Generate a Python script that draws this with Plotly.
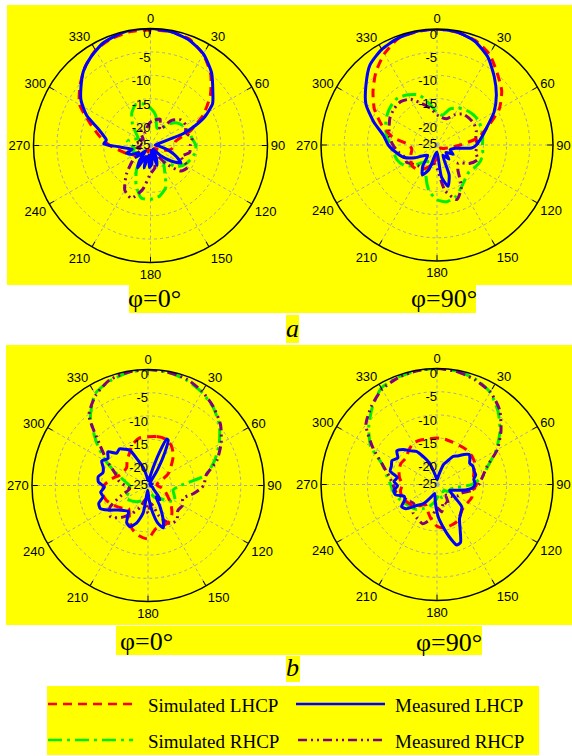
import plotly.graph_objects as go

W, H = 572, 756

THETA = list(range(0, 360, 10))
ANG_TICKS = list(range(0, 360, 30))
RAD_TICKS = [0, -5, -10, -15, -20, -25]
RAD_LABELS = ["0", "-5", "-10", "-15", "-20", "-25"]

# ---- (a) phi = 0 deg ----
A0_SIM_LHCP = [-0.3, -0.3, -0.8, -2.5, -5.0, -8.3, -12.0, -16.0, -19.5, -20.0, -20.5, -22.0,
               -23.5, -24.0, -24.0, -24.0, -23.5, -24.0, -23.5, -24.0, -23.5, -24.0, -23.0, -22.0,
               -21.0, -19.8, -18.5, -16.3, -14.0, -11.3, -7.5, -5.3, -3.2, -1.5, -0.7, -0.3]
A0_MEAS_LHCP_T = [0, 10, 20, 30, 40, 50, 56, 62, 66, 70, 75, 85, 95, 105, 113, 120, 127, 135, 145,
                  155, 162, 170, 176, 183, 190, 196, 203, 210, 216, 223, 230, 238, 245, 252, 258,
                  263, 268, 272, 277, 283, 288, 295, 303, 310, 318, 326, 335, 345, 352]
A0_MEAS_LHCP = [0, -0.3, -1, -2.4, -4.7, -7.6, -9, -11.8, -14.5, -17.5, -23, -24, -23, -21, -19,
                -17.5, -19.5, -22, -24, -22, -20.5, -24, -21, -20.3, -23, -20, -22.5, -19.5, -21,
                -23.5, -21, -22, -20.5, -19.6, -21, -20, -18, -15, -15.5, -14.5, -13.2, -10, -7.3,
                -5.6, -3.6, -2.2, -0.9, -0.2, 0]
A0_SIM_RHCP = [-17, -18.5, -21, -21, -19, -17.5, -16.8, -16.3, -16, -15.3, -15.4, -16, -16.7, -18,
               -20.5, -19, -15.5, -14, -13.5, -13.6, -16, -19, -22, -22.5, -22, -21, -21.5, -21,
               -20, -21, -22, -21, -19, -17, -15.7, -16]
A0_MEAS_RHCP = [-20, -19.5, -19, -21, -18, -16.5, -16.3, -17, -16, -16.5, -16.5, -18, -15.8, -16.5,
                -20, -23, -22, -20, -19, -15.5, -13, -14, -17, -20, -22, -23, -22, -23.5, -22, -23,
                -22.5, -23, -22, -21, -22, -21]

# ---- (a) phi = 90 deg ----
A90_SIM_LHCP = [0, -0.3, -1, -2.4, -4.8, -6.8, -9.5, -13.3, -16, -20, -22, -23, -23.5, -24, -24,
                -24, -24, -23.5, -22.5, -21, -20, -19, -18.2, -18, -18.5, -19, -19.5, -19, -15.3,
                -12.3, -9.4, -7, -4.5, -2.3, -0.6, -0.2]
A90_MEAS_LHCP_T = [0, 10, 20, 30, 40, 50, 60, 70, 80, 90, 95, 100, 110, 120, 130, 140, 150, 158,
                   165, 172, 180, 190, 198, 206, 214, 222, 230, 240, 250, 260, 270, 280, 290, 300,
                   310, 320, 330, 340, 350]
A90_MEAS_LHCP = [0, -0.3, -1.2, -3.1, -5.8, -8.3, -10.8, -13.5, -15.2, -16.5, -17.5, -21, -22, -21,
                 -22.5, -21, -22.5, -18, -15.8, -18, -23.5, -23, -19.5, -17.8, -19.5, -22, -21.5,
                 -19.5, -17.3, -16, -14.5, -13.3, -10.5, -7.3, -5, -2.5, -1.2, -0.5, -0.1]
A90_SIM_RHCP = [-18, -18.5, -16.7, -15.8, -15.2, -14.8, -14.6, -14.8, -15, -15.2, -15, -15, -15.5,
                -16, -15.5, -14.5, -13.2, -12.6, -13.2, -15, -18, -21, -20, -18, -16.5, -15.8,
                -15.5, -15, -14, -13.2, -12.5, -12, -11.8, -12.5, -13.5, -16]
A90_MEAS_RHCP = [-18.5, -19, -19, -17.5, -16.3, -16, -15.8, -16, -16.5, -16.3, -16.5, -15.7, -17,
                 -19, -18, -14.5, -12.5, -15, -20, -21, -20, -19, -19, -18.5, -17.5, -17.5, -16.5,
                 -15.5, -14.6, -14, -13.3, -12.9, -12.8, -13.6, -15.5, -17]

# ---- (b) phi = 0 deg ----
B0_SIM_LHCP = [-14.5, -14.3, -14.3, -15, -16.5, -18.5, -20, -22, -23, -23, -22, -21, -20, -18.5,
               -17, -16, -15.7, -15.5, -13.5, -14, -15, -17, -18.5, -17.5, -16.5, -15.5, -15,
               -15.5, -17, -18.5, -19, -19, -18, -17, -15.5, -14.6]
B0_MEAS_LHCP_T = [0, 10, 16, 19, 22, 24, 27, 31, 36, 50, 70, 90, 110, 125, 135, 140, 145, 150, 155,
                  160, 165, 170, 176, 183, 190, 197, 204, 210, 217, 224, 231, 238, 244, 250, 256,
                  262, 268, 274, 280, 286, 292, 298, 304, 310, 316, 322, 328, 333, 338, 345, 352]
B0_MEAS_LHCP = [-24, -23.5, -21, -17.5, -14.2, -14.3, -17, -21, -24, -24.5, -24, -24.5, -24, -23.5,
                -22, -21, -22, -20, -17.5, -15.3, -16.5, -19, -22, -24, -19, -16.5, -15.3, -15.8,
                -18, -17.5, -16.6, -15, -13.6, -13.7, -15, -14.7, -15.6, -14.3, -14.1, -14.9,
                -14.6, -13.7, -14.6, -13.7, -15.3, -15, -15.8, -16.5, -19, -21, -23]
B0_SIM_RHCP = [0, -0.2, -0.8, -1.8, -3.1, -4.9, -7.3, -9.8, -12.5, -18, -19.5, -19, -18.3, -20,
               -21.5, -22, -23, -23, -22.5, -22, -21.5, -21, -20.5, -20, -19.5, -20.5, -21, -21,
               -20, -18, -14.5, -10.5, -5.7, -2.2, -1, -0.3]
B0_MEAS_RHCP = [0, -0.2, -0.6, -1.6, -3, -4.6, -6.8, -9.2, -12.3, -13, -15, -17, -16.4, -16.6,
                -15.3, -15.5, -18, -21, -19, -22, -20, -18, -16, -14.5, -15.5, -19, -21, -20,
                -18.5, -17.5, -15, -11.5, -5.2, -2.5, -0.8, -0.2]

# ---- (b) phi = 90 deg ----
B90_SIM_LHCP = [-15, -15.1, -15.3, -15.3, -15.2, -15.3, -15.6, -16.5, -17, -16.5, -17.3, -17,
                -17.3, -17.5, -17, -16, -15.7, -15.5, -16, -17.5, -19, -20, -19, -18, -17.5, -17,
                -17, -17.5, -16.8, -16.3, -16, -16.2, -15.5, -14.7, -14.8, -15]
B90_MEAS_LHCP_T = [0, 10, 18, 24, 30, 36, 42, 47, 52, 57, 63, 70, 76, 82, 88, 94, 100, 106, 115,
                   125, 132, 140, 147, 153, 158, 162, 167, 172, 178, 185, 195, 205, 215, 225, 232,
                   238, 244, 250, 256, 262, 268, 274, 280, 286, 292, 298, 304, 310, 316, 322, 328,
                   334, 340, 350]
B90_MEAS_LHCP = [-24, -23, -20.5, -19.5, -18, -17.4, -16.3, -15.5, -16, -16.6, -16.3, -16.5, -16.4,
                 -17, -16.8, -17.1, -18.5, -20.5, -22, -20.5, -17.8, -17, -16.1, -14, -11.5, -11.3,
                 -13.5, -15.8, -18.1, -21, -23, -22, -20, -18.5, -16.5, -16, -17.2, -17.5, -15.8,
                 -15.6, -16.5, -15.7, -16.3, -14.5, -14.4, -14, -14.8, -13.7, -14.5, -15.8, -16.6,
                 -18.4, -20, -23]
B90_SIM_RHCP = [0, -0.2, -0.8, -2.1, -4.5, -7.3, -10.3, -13.3, -15, -17.5, -21, -22, -22, -23, -23,
                -22, -22, -23, -22, -21, -20, -19, -18, -17.5, -17, -16.2, -15.5, -15, -14, -12.5,
                -8.5, -5.8, -3.3, -1, -0.4, -0.1]
B90_MEAS_RHCP = [0, -0.3, -1, -2, -4, -7, -10, -13.5, -15, -16, -17.5, -19.5, -20, -21, -22, -20,
                 -21, -19, -20, -17.5, -16, -16.5, -17, -18.5, -18, -17, -16, -15.5, -14.5, -12.5,
                 -9, -5, -3, -1.3, -0.5, -0.1]

SERIES_NAMES = ["Simulated LHCP", "Measured LHCP", "Simulated RHCP", "Measured RHCP"]

PANELS = [
    ("polar", [(THETA, A0_SIM_LHCP), (A0_MEAS_LHCP_T, A0_MEAS_LHCP), (THETA, A0_SIM_RHCP), (THETA, A0_MEAS_RHCP)]),
    ("polar2", [(THETA, A90_SIM_LHCP), (A90_MEAS_LHCP_T, A90_MEAS_LHCP), (THETA, A90_SIM_RHCP), (THETA, A90_MEAS_RHCP)]),
    ("polar3", [(THETA, B0_SIM_LHCP), (B0_MEAS_LHCP_T, B0_MEAS_LHCP), (THETA, B0_SIM_RHCP), (THETA, B0_MEAS_RHCP)]),
    ("polar4", [(THETA, B90_SIM_LHCP), (B90_MEAS_LHCP_T, B90_MEAS_LHCP), (THETA, B90_SIM_RHCP), (THETA, B90_MEAS_RHCP)]),
]

STYLES = [
    dict(color="#FF0000", dash="9px,6px", width=3),
    dict(color="#0000FF", dash="solid", width=3),
    dict(color="#00EE00", dash="14px,5px,3px,5px", width=3),
    dict(color="#800080", dash="9px,4px,2px,4px,2px,4px", width=3),
]
DRAW_ORDER = [2, 3, 0, 1]

YELLOW = "#FFFF00"
SERIF = "Liberation Serif, Times New Roman, serif"
SANS = "Liberation Sans, Arial, sans-serif"

fig = go.Figure()

for sub, series in PANELS:
    for i in DRAW_ORDER:
        th, rr = series[i]
        fig.add_trace(go.Scatterpolar(
            theta=list(th) + [th[0] + 360], r=list(rr) + [rr[0]],
            mode="lines", name=SERIES_NAMES[i], subplot=sub,
            line=dict(color=STYLES[i]["color"], dash=STYLES[i]["dash"],
                      width=STYLES[i]["width"], shape="spline", smoothing=0.6),
            showlegend=False, hoverinfo="skip"))
    # radial tick labels placed along the 0-degree spoke
    fig.add_trace(go.Scatterpolar(
        theta=[0] * len(RAD_TICKS),
        r=[max(v - 1.4, -25) for v in RAD_TICKS],
        text=RAD_LABELS, mode="text", textposition="middle left",
        textfont=dict(family=SANS, size=13, color="black"),
        subplot=sub, showlegend=False, hoverinfo="skip"))


def px_dom(cx, cy, r):
    return dict(x=[(cx - r) / W, (cx + r) / W], y=[1 - (cy + r) / H, 1 - (cy - r) / H])


CENTERS = {"polar": (150.5, 145.5, 117), "polar2": (437, 145, 116),
           "polar3": (148, 485.5, 116), "polar4": (437, 484.5, 116)}

polar_common = dict(
    bgcolor=YELLOW,
    angularaxis=dict(direction="clockwise", rotation=90, tickvals=ANG_TICKS,
                     ticktext=[str(v) for v in ANG_TICKS], ticks="inside", ticklen=5,
                     tickcolor="black", showline=True, linecolor="black", linewidth=1.5,
                     gridcolor="#a8a8a8", griddash="dot", gridwidth=1,
                     tickfont=dict(family=SANS, size=13, color="black")),
    radialaxis=dict(range=[-25, 0], tickvals=[-20, -15, -10, -5], showticklabels=False,
                    ticks="", showline=False, gridcolor="#a8a8a8", griddash="dot",
                    gridwidth=1, angle=90),
)
lay = {}
for sub, (cx, cy, r) in CENTERS.items():
    d = dict(polar_common)
    d["domain"] = px_dom(cx, cy, r)
    lay[sub] = d
fig.update_layout(**lay)


def rect(x0, y0, x1, y1, color=YELLOW):
    return dict(type="rect", xref="paper", yref="paper", x0=x0 / W, x1=x1 / W,
                y0=1 - y1 / H, y1=1 - y0 / H, fillcolor=color, line=dict(width=0), layer="below")


shapes = [
    rect(7, 5, 572, 285),
    rect(129, 285, 476, 313),
    rect(286, 315, 299, 343),
    rect(6, 345, 572, 625),
    rect(116, 626, 482, 655),
    rect(286, 656, 300, 682),
    rect(47, 686, 539, 755),
]

# legend samples
LEG = [(48, 137, 704, 0), (296, 385, 704, 1), (48, 133, 740, 2), (298, 382, 740, 3)]
LEG_TEXT_X = {0: 146, 1: 393, 2: 146, 3: 393}
annotations = []
for x0, x1, y, i in LEG:
    shapes.append(dict(type="line", xref="paper", yref="paper", x0=x0 / W, x1=x1 / W,
                       y0=1 - y / H, y1=1 - y / H,
                       line=dict(color=STYLES[i]["color"], dash=STYLES[i]["dash"], width=2.6)))
    annotations.append(dict(text=SERIES_NAMES[i], x=LEG_TEXT_X[i] / W, y=1 - (y + 1) / H,
                            xref="paper", yref="paper", xanchor="left", yanchor="middle",
                            showarrow=False, font=dict(family=SERIF, size=19, color="black")))

LABELS = [("φ=0°", 154.5, 298), ("φ=90°", 443.5, 298), ("<i>a</i>", 292.5, 328),
          ("φ=0°", 146, 641), ("φ=90°", 448.5, 642), ("<i>b</i>", 293, 667)]
for t, x, y in LABELS:
    annotations.append(dict(text=t, x=x / W, y=1 - y / H, xref="paper", yref="paper",
                            xanchor="center", yanchor="middle", showarrow=False,
                            font=dict(family=SERIF, size=26, color="black")))

fig.update_layout(width=W, height=H, margin=dict(l=0, r=0, t=0, b=0),
                  paper_bgcolor="white", plot_bgcolor="white", showlegend=False,
                  shapes=shapes, annotations=annotations)

fig.write_html("out.html")
